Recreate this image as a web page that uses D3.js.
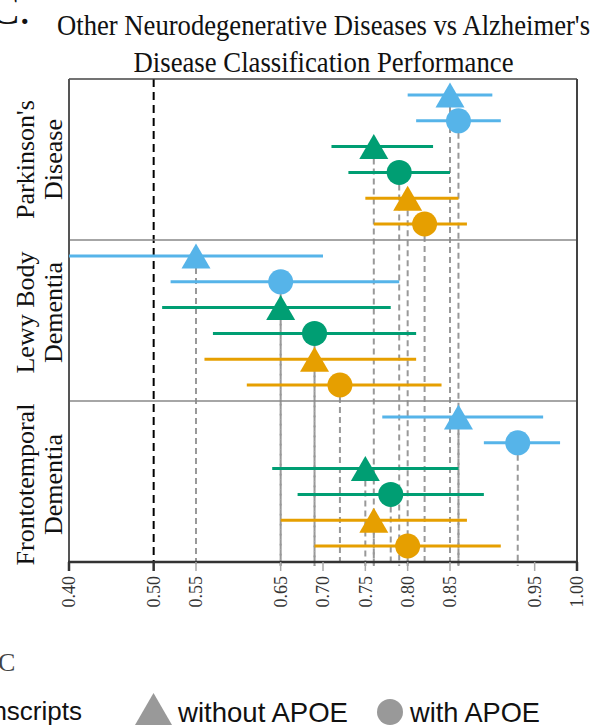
<!DOCTYPE html>
<html>
<head>
<meta charset="utf-8">
<script src="https://cdn.jsdelivr.net/npm/d3@7"></script>
<style>
  body { margin: 0; background: #fff; }
  svg { display: block; }
</style>
</head>
<body>
<svg width="603" height="727"></svg>
<script>
// data
const panels = ["Parkinson's Disease", "Lewy Body Dementia", "Frontotemporal Dementia"];
const panelLines = [["Parkinson's", "Disease"], ["Lewy Body", "Dementia"], ["Frontotemporal", "Dementia"]];
const seriesColors = ["#56B4E9", "#009E73", "#E69F00"];
const apoeGroups = ["without APOE", "with APOE"];
// row order inside a panel: colour 0 tri, colour 0 circle, colour 1 tri, ...
const rowKeys = ["s0-without", "s0-with", "s1-without", "s1-with", "s2-without", "s2-with"];

const pdAUC  = [0.85, 0.86, 0.76, 0.79, 0.80, 0.82];
const pdLow  = [0.80, 0.81, 0.71, 0.73, 0.75, 0.76];
const pdHigh = [0.90, 0.91, 0.83, 0.85, 0.86, 0.87];

const lbdAUC  = [0.55, 0.65, 0.65, 0.69, 0.69, 0.72];
const lbdLow  = [0.40, 0.52, 0.51, 0.57, 0.56, 0.61];
const lbdHigh = [0.70, 0.79, 0.78, 0.81, 0.81, 0.84];

const ftdAUC  = [0.86, 0.93, 0.75, 0.78, 0.76, 0.80];
const ftdLow  = [0.77, 0.89, 0.64, 0.67, 0.65, 0.69];
const ftdHigh = [0.96, 0.98, 0.86, 0.89, 0.87, 0.91];

const xTicks = [0.40, 0.50, 0.55, 0.65, 0.70, 0.75, 0.80, 0.85, 0.95, 1.00];
const darkTicks = [0.40, 0.50, 1.00];
const chanceLine = 0.50;

// build rows
const aucs = [pdAUC, lbdAUC, ftdAUC], lows = [pdLow, lbdLow, ftdLow], highs = [pdHigh, lbdHigh, ftdHigh];
let rows = [];
panels.forEach((p, pi) => {
    rowKeys.forEach((k, ri) => {
        rows.push({
            panel: p,
            key: k,
            series: Math.floor(ri / 2),
            apoe: apoeGroups[ri % 2],
            auc: aucs[pi][ri],
            lo: lows[pi][ri],
            hi: highs[pi][ri]
        });
    });
});

const svg = d3.select("svg");
const serif = "'Liberation Serif', 'Times New Roman', serif";
const sans = "'Liberation Sans', Arial, sans-serif";

const plotLeft = 69, plotRight = 577, plotTop = 79, plotBottom = 562;
const x = d3.scaleLinear().domain([0.4, 1.0]).range([plotLeft, plotRight]);
const panelY = d3.scaleBand().domain(panels).range([plotTop, plotBottom]);
const rowY = d3.scalePoint().domain(rowKeys).range([0, panelY.bandwidth()]).padding(0.62);
const yOf = d => panelY(d.panel) + rowY(d.key);

// title (the figure is cropped, so the panel letter sits half off the top)
svg.append("text").attr("x", -10).attr("y", 24)
    .style("font-family", serif).style("font-size", "44px").style("fill", "#111")
    .text("C.");
const titleLines = ["Other Neurodegenerative Diseases vs Alzheimer's", "Disease Classification Performance"];
const titleWidths = [533, 380];
titleLines.forEach((t, i) => {
    svg.append("text")
        .attr("x", 323.5).attr("y", 35 + i * 37)
        .attr("text-anchor", "middle")
        .attr("textLength", titleWidths[i]).attr("lengthAdjust", "spacingAndGlyphs")
        .style("font-family", serif).style("font-size", "29px").style("fill", "#111")
        .text(t);
});

// panel labels
const labelShift = [0, -8, 3];
panels.forEach((p, i) => {
    const cy = panelY(p) + panelY.bandwidth() / 2 + labelShift[i];
    panelLines[i].forEach((line, j) => {
        const bx = 34 + j * 28;
        svg.append("text")
            .attr("transform", `translate(${bx},${cy}) rotate(-90)`)
            .attr("text-anchor", "middle")
            .style("font-family", serif).style("font-size", "26px").style("fill", "#111")
            .text(line);
    });
});

// chance line
svg.append("line")
    .attr("x1", x(chanceLine)).attr("x2", x(chanceLine))
    .attr("y1", plotTop).attr("y2", plotBottom)
    .style("stroke", "#000").style("stroke-width", 2).style("stroke-dasharray", "8,5");

// drop lines
svg.append("g").selectAll("line").data(rows).enter().append("line")
    .attr("x1", d => x(d.auc)).attr("x2", d => x(d.auc))
    .attr("y1", d => yOf(d) + 12).attr("y2", plotBottom + 4)
    .style("stroke", "#999").style("stroke-width", 2).style("stroke-dasharray", "6,4");

// panel dividers
panels.slice(1).forEach(p => {
    svg.append("line").attr("x1", plotLeft).attr("x2", plotRight)
        .attr("y1", panelY(p)).attr("y2", panelY(p))
        .style("stroke", "#888").style("stroke-width", 1.5);
});

// frame
svg.append("line").attr("x1", plotLeft).attr("x2", plotRight).attr("y1", plotTop).attr("y2", plotTop)
    .style("stroke", "#444").style("stroke-width", 1.5);
svg.append("line").attr("x1", plotLeft).attr("x2", plotLeft).attr("y1", plotTop).attr("y2", plotBottom)
    .style("stroke", "#555").style("stroke-width", 2);
svg.append("line").attr("x1", plotRight).attr("x2", plotRight).attr("y1", plotTop).attr("y2", plotBottom)
    .style("stroke", "#444").style("stroke-width", 2);

// error bars
svg.append("g").selectAll("line").data(rows).enter().append("line")
    .attr("x1", d => x(d.lo)).attr("x2", d => x(d.hi))
    .attr("y1", d => yOf(d)).attr("y2", d => yOf(d))
    .style("stroke", d => seriesColors[d.series]).style("stroke-width", 3);

// markers
const triPath = (cx, cy, w, h) => `M${cx - w / 2},${cy + h / 2}L${cx},${cy - h / 2}L${cx + w / 2},${cy + h / 2}Z`;
const marks = svg.append("g");
marks.selectAll("path").data(rows.filter(d => d.apoe === "without APOE")).enter().append("path")
    .attr("d", d => triPath(x(d.auc), yOf(d), 29, 25))
    .style("fill", d => seriesColors[d.series]);
marks.selectAll("circle").data(rows.filter(d => d.apoe === "with APOE")).enter().append("circle")
    .attr("cx", d => x(d.auc)).attr("cy", d => yOf(d)).attr("r", 12.5)
    .style("fill", d => seriesColors[d.series]);

// x axis
svg.append("line").attr("x1", plotLeft - 1).attr("x2", plotRight + 1).attr("y1", plotBottom).attr("y2", plotBottom)
    .style("stroke", "#333").style("stroke-width", 2.5);
const ticks = svg.append("g").selectAll("g").data(xTicks).enter().append("g")
    .attr("transform", d => `translate(${x(d)},0)`);
ticks.append("line").attr("y1", plotBottom).attr("y2", plotBottom + 9)
    .style("stroke", d => darkTicks.includes(d) ? "#333" : "#aaa")
    .style("stroke-width", d => darkTicks.includes(d) ? 2.5 : 1.5);
ticks.append("text")
    .attr("transform", `translate(0,${plotBottom + 14}) rotate(-90)`)
    .attr("text-anchor", "end").attr("dy", "0.35em")
    .style("font-family", serif).style("font-size", "18px").style("fill", "#333")
    .text(d => d.toFixed(2));

// legend (cut off at the bottom of the figure)
svg.append("text").attr("x", -2).attr("y", 671)
    .style("font-family", serif).style("font-size", "26px").style("fill", "#444")
    .text("C");
svg.append("text").attr("x", 82).attr("y", 720).attr("text-anchor", "end")
    .style("font-family", sans).style("font-size", "26px").style("fill", "#111")
    .text("Transcripts");
const legendGray = "#999";
svg.append("path").attr("d", triPath(153.5, 709, 37, 32)).style("fill", legendGray);
svg.append("text").attr("x", 178).attr("y", 722)
    .attr("textLength", 170).attr("lengthAdjust", "spacingAndGlyphs")
    .style("font-family", sans).style("font-size", "28px").style("fill", "#111")
    .text(apoeGroups[0]);
svg.append("circle").attr("cx", 390).attr("cy", 712).attr("r", 13).style("fill", legendGray);
svg.append("text").attr("x", 410).attr("y", 722)
    .attr("textLength", 130).attr("lengthAdjust", "spacingAndGlyphs")
    .style("font-family", sans).style("font-size", "28px").style("fill", "#111")
    .text(apoeGroups[1]);
</script>
</body>
</html>
